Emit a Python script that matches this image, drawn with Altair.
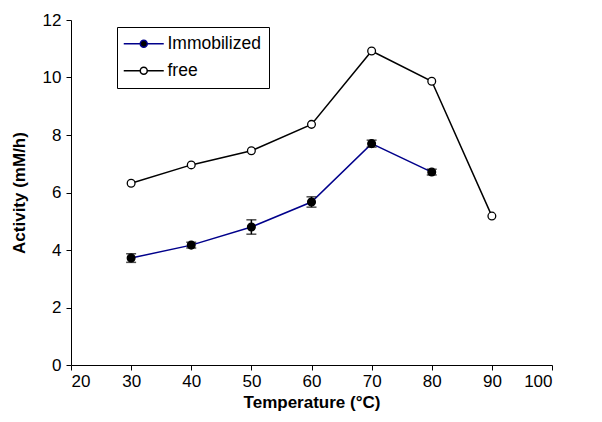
import altair as alt
import pandas as pd

temps_free = [30, 40, 50, 60, 70, 80, 90]
free_vals = [6.32, 6.96, 7.45, 8.37, 10.92, 9.87, 5.18]

temps_imm = [30, 40, 50, 60, 70, 80]
imm_vals = [3.72, 4.17, 4.80, 5.67, 7.70, 6.71]
imm_err = [0.15, 0.10, 0.25, 0.18, 0.12, 0.10]

series_names = ["Immobilized", "free"]

rows = []
for t, v in zip(temps_imm, imm_vals):
    rows.append({"T": t, "A": v, "series": "Immobilized"})
for t, v in zip(temps_free, free_vals):
    rows.append({"T": t, "A": v, "series": "free"})
df = pd.DataFrame(rows)

err_df = pd.DataFrame({
    "T": temps_imm,
    "lo": [v - e for v, e in zip(imm_vals, imm_err)],
    "hi": [v + e for v, e in zip(imm_vals, imm_err)],
})

xscale = alt.Scale(domain=[20, 100], nice=False, zero=False)
yscale = alt.Scale(domain=[0, 12], nice=False)

xaxis = alt.Axis(values=list(range(20, 101, 10)), title="Temperature (°C)", grid=False)
yaxis = alt.Axis(values=list(range(0, 13, 2)), title="Activity (mM/h)", grid=False, labelPadding=5)

legend_sym = "M-4,0H-0.7M0.7,0H4M-0.7,0A0.7,0.7 0 1,0 0.7,0A0.7,0.7 0 1,0 -0.7,0Z"

color = alt.Color("series:N", scale=alt.Scale(domain=series_names, range=["#00008B", "#000000"]),
                  legend=alt.Legend(title=None, orient="none", legendX=46, legendY=7,
                                    symbolType=legend_sym, symbolSize=100, symbolStrokeWidth=1.5,
                                    labelFontSize=17.5, labelFont="Liberation Sans", labelColor="black",
                                    strokeColor="black", padding=8, rowPadding=8,
                                    fillColor="white", labelOffset=15, symbolOffset=10))
fill = alt.Fill("series:N", scale=alt.Scale(domain=series_names, range=["#000000", "#ffffff"]), legend=None)

base = alt.Chart(df).encode(
    x=alt.X("T:Q", scale=xscale, axis=xaxis),
    y=alt.Y("A:Q", scale=yscale, axis=yaxis),
)

lines = base.mark_line(strokeWidth=1.5).encode(color=color, detail="series:N")

err_rule = alt.Chart(err_df).mark_rule(color="black", strokeWidth=1.5).encode(
    x=alt.X("T:Q", scale=xscale), y=alt.Y("lo:Q", scale=yscale), y2="hi:Q")
cap_lo = alt.Chart(err_df).mark_tick(color="black", orient="horizontal", size=10, thickness=1.5).encode(
    x=alt.X("T:Q", scale=xscale), y=alt.Y("lo:Q", scale=yscale))
cap_hi = alt.Chart(err_df).mark_tick(color="black", orient="horizontal", size=10, thickness=1.5).encode(
    x=alt.X("T:Q", scale=xscale), y=alt.Y("hi:Q", scale=yscale))

points = base.mark_point(shape="circle", size=60, stroke="black", strokeWidth=1.3, opacity=1, filled=False).encode(
    fill=fill)

chart = alt.layer(lines, err_rule, cap_lo, cap_hi, points).properties(
    width=481, height=345,
    padding={"left": 71, "top": 20, "right": 50, "bottom": 57},
    autosize=alt.AutoSizeParams(type="none"),
).configure_view(stroke=None).configure_axis(
    domainColor="black", tickColor="black", domainWidth=1, tickWidth=1, tickSize=5,
    labelFont="Liberation Sans", labelFontSize=17, labelColor="black",
    titleFont="Liberation Sans", titleFontSize=17, titleFontWeight="bold", titleColor="black",
    labelPadding=3,
).configure_axisX(titlePadding=5).configure_axisY(titlePadding=14)

chart.save("out.html", embed_options={"renderer": "svg", "actions": False})
